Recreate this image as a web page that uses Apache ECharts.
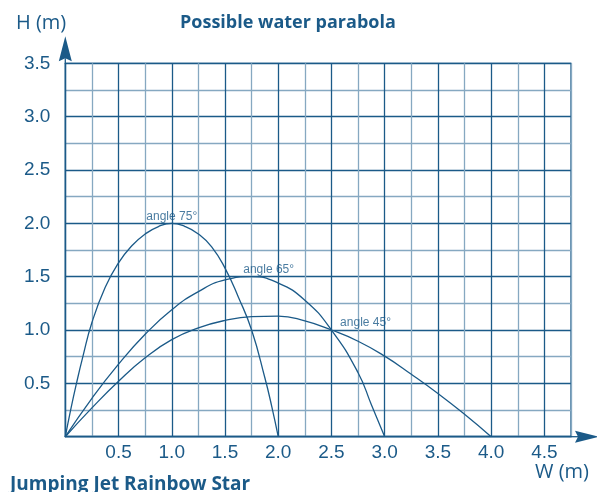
<!DOCTYPE html>
<html>
<head>
<meta charset="utf-8">
<script src="https://cdn.jsdelivr.net/npm/echarts@6/dist/echarts.min.js"></script>
<style>
html,body{margin:0;padding:0;background:#fff;}
#chart{width:597px;height:492px;}
</style>
</head>
<body>
<div id="chart"></div>
<script>
// Data (W in m, H in m)
const angle75 = [[0,0],[0.05,0.25],[0.105,0.5],[0.165,0.75],[0.25,1.07],[0.375,1.4],[0.5,1.63],[0.625,1.79],[0.75,1.9],[0.875,1.97],[1.0,2.0],[1.125,1.97],[1.25,1.9],[1.375,1.78],[1.5,1.58],[1.625,1.31],[1.75,1.0],[1.875,0.55],[1.94,0.28],[2.0,0]];
const angle65 = [[0,0],[0.25,0.36],[0.5,0.68],[0.75,0.96],[1.0,1.19],[1.25,1.36],[1.5,1.47],[1.75,1.5],[2.0,1.44],[2.25,1.28],[2.5,1.0],[2.75,0.6],[2.875,0.3],[3.0,0]];
const angle45 = [[0,0],[0.25,0.27],[0.5,0.52],[0.75,0.74],[1.0,0.91],[1.25,1.02],[1.5,1.09],[1.75,1.125],[2.0,1.13],[2.25,1.085],[2.5,1.0],[2.75,0.895],[3.0,0.755],[3.25,0.585],[3.5,0.405],[3.75,0.21],[4.0,0]];
const curveNames = ['angle 75°','angle 65°','angle 45°'];
const labelAnchors = [[1.0,2.0],[1.91,1.5],[2.82,1.0]];
const xMax = 4.75, yMax = 3.5, step = 0.25;

const DARK = '#1b5a88';
const LIGHT = '#86a8c1';

function tickFmt(v){
  const d = v*2;
  if (v > 0 && Math.abs(d - Math.round(d)) < 1e-6) return v.toFixed(1);
  return '';
}

const chart = echarts.init(document.getElementById('chart'), null, {renderer:'canvas'});
const curves = [angle75, angle65, angle45];
const series = curves.map((d,i)=>({
  type:'line', name: curveNames[i], data: d, smooth: 0.5, symbol:'none',
  lineStyle:{color:DARK, width:1.3}, z:5
}));
series.push({
  type:'scatter', symbolSize:0, silent:true,
  data: labelAnchors.map((p,i)=>({value:p, label:{show:true, formatter: curveNames[i]}})),
  label:{position:'top', distance:1, color:DARK, fontSize:12, fontFamily:'Liberation Sans, Arial, sans-serif'}
});

chart.setOption({
  animation:false,
  backgroundColor:'#fff',
  title:[
    {text:'Possible water parabola', left:175, top:9, textStyle:{color:DARK, fontSize:18, fontWeight:'bold', fontFamily:'Open Sans'}},
    {text:'H (m)', left:11, top:8, textStyle:{color:DARK, fontSize:20, fontWeight:'normal', fontFamily:'Open Sans'}},
    {text:'W (m)', left:530, top:457, textStyle:{color:DARK, fontSize:20, fontWeight:'normal', fontFamily:'Open Sans'}},
    {text:'Jumping Jet Rainbow Star', left:5, top:470, textStyle:{color:DARK, fontSize:19, fontWeight:'bold', fontFamily:'Open Sans'}}
  ],
  grid:{left:65.3, top:63.3, right:26, bottom:55.3, show:true, borderColor:DARK, borderWidth:1.3, backgroundColor:'transparent'},
  xAxis:{
    type:'value', min:0, max:xMax, interval:step,
    axisLine:{show:true, lineStyle:{color:DARK, width:1.3}},
    axisTick:{show:false},
    axisLabel:{formatter:tickFmt, color:DARK, fontSize:19, margin:7, fontFamily:'Liberation Sans, Arial, sans-serif'},
    splitLine:{show:true, lineStyle:{color:[DARK, LIGHT], width:1.3}}
  },
  yAxis:{
    type:'value', min:0, max:yMax, interval:step,
    axisLine:{show:true, lineStyle:{color:DARK, width:1.3}},
    axisTick:{show:false},
    axisLabel:{formatter:tickFmt, color:DARK, fontSize:19, margin:15, fontFamily:'Liberation Sans, Arial, sans-serif'},
    splitLine:{show:true, lineStyle:{color:[DARK, LIGHT], width:1.3}}
  },
  series: series
});

// Axis arrows placed at the axis ends (positions derived from the axes)
const topPt = chart.convertToPixel({gridIndex:0}, [0, yMax]);
const rightPt = chart.convertToPixel({gridIndex:0}, [xMax, 0]);
const yA = {gap:2, len:25, half:6.5, notch:3};
const xA = {gap:4, len:24, half:6, notch:3};
chart.setOption({
  graphic:[
    {type:'polygon', silent:true, z:100, shape:{points:[
      [topPt[0], topPt[1]-yA.gap-yA.len],
      [topPt[0]-yA.half, topPt[1]-yA.gap],
      [topPt[0], topPt[1]-yA.gap-yA.notch],
      [topPt[0]+yA.half, topPt[1]-yA.gap]
    ]}, style:{fill:DARK}},
    {type:'line', silent:true, z:100, shape:{x1:topPt[0], y1:topPt[1], x2:topPt[0], y2:topPt[1]-yA.gap-yA.notch}, style:{stroke:DARK, lineWidth:1.3}},
    {type:'polygon', silent:true, z:100, shape:{points:[
      [rightPt[0]+xA.gap+xA.len, rightPt[1]],
      [rightPt[0]+xA.gap, rightPt[1]-xA.half],
      [rightPt[0]+xA.gap+xA.notch, rightPt[1]],
      [rightPt[0]+xA.gap, rightPt[1]+xA.half]
    ]}, style:{fill:DARK}},
    {type:'line', silent:true, z:100, shape:{x1:rightPt[0], y1:rightPt[1], x2:rightPt[0]+xA.gap+xA.notch, y2:rightPt[1]}, style:{stroke:DARK, lineWidth:1.3}}
  ]
});
</script>
</body>
</html>
